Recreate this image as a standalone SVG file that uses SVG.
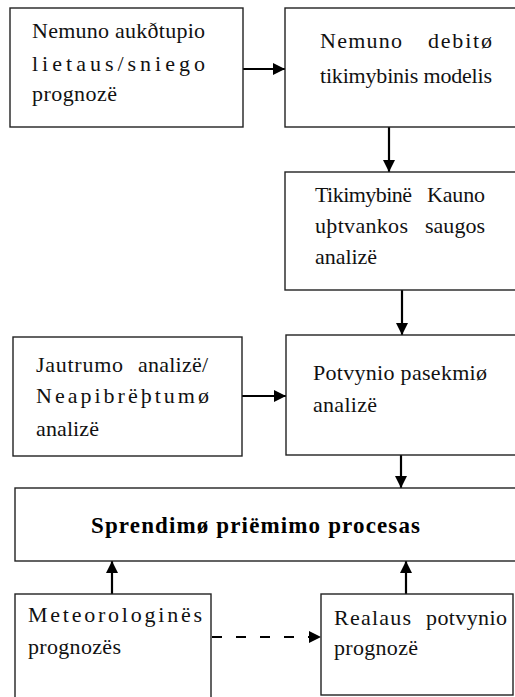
<svg xmlns="http://www.w3.org/2000/svg" width="515" height="697" viewBox="0 0 515 697">
<style>
.box{fill:#fff;stroke:#222;stroke-width:1.4}
.t{font-family:"Liberation Serif","Times New Roman",serif;font-size:22px;fill:#111}
.b{font-family:"Liberation Serif","Times New Roman",serif;font-size:23px;font-weight:bold;fill:#000}
.c{stroke:#000;stroke-width:2.2;fill:none}
</style>
<defs>
<marker id="ah" markerUnits="userSpaceOnUse" markerWidth="12" markerHeight="12" refX="12" refY="6" orient="auto">
<path d="M0,0 L12,6 L0,12 z" fill="#000"/>
</marker>
</defs>
<rect width="515" height="697" fill="#fff"/>
<g id="connectors">
<line class="c" x1="243" y1="69" x2="285" y2="69" marker-end="url(#ah)"/>
<line class="c" x1="389" y1="127" x2="389" y2="172" marker-end="url(#ah)"/>
<line class="c" x1="402" y1="290" x2="402" y2="335" marker-end="url(#ah)"/>
<line class="c" x1="242" y1="396" x2="286" y2="396" marker-end="url(#ah)"/>
<line class="c" x1="401" y1="455" x2="401" y2="488" marker-end="url(#ah)"/>
<line class="c" x1="112" y1="594" x2="112" y2="561" marker-end="url(#ah)"/>
<line class="c" x1="406" y1="594" x2="406" y2="561" marker-end="url(#ah)"/>
<line class="c" x1="212" y1="637" x2="321" y2="637" stroke-dasharray="10 14" marker-end="url(#ah)"/>
</g>
<g id="n1">
<rect class="box" x="10" y="8" width="233" height="119"/>
<text class="t" x="32" y="38" textLength="173" lengthAdjust="spacing">Nemuno aukðtupio</text>
<text class="t" x="32" y="71" textLength="173" lengthAdjust="spacing">lietaus/sniego</text>
<text class="t" x="32" y="101" textLength="85" lengthAdjust="spacing">prognozë</text>
</g>
<g id="n2">
<rect class="box" x="285" y="8" width="240" height="119"/>
<text class="t" x="320" y="48" textLength="82" lengthAdjust="spacing">Nemuno</text>
<text class="t" x="428" y="48" textLength="64" lengthAdjust="spacing">debitø</text>
<text class="t" x="320" y="83" textLength="172" lengthAdjust="spacing">tikimybinis modelis</text>
</g>
<g id="n3">
<rect class="box" x="285" y="172" width="240" height="118"/>
<text class="t" x="315" y="202" textLength="97" lengthAdjust="spacing">Tikimybinë</text>
<text class="t" x="427" y="202" textLength="58" lengthAdjust="spacing">Kauno</text>
<text class="t" x="315" y="233" textLength="93" lengthAdjust="spacing">uþtvankos</text>
<text class="t" x="425" y="233" textLength="60" lengthAdjust="spacing">saugos</text>
<text class="t" x="315" y="264" textLength="62" lengthAdjust="spacing">analizë</text>
</g>
<g id="n4">
<rect class="box" x="13" y="337" width="229" height="119"/>
<text class="t" x="36" y="372" textLength="87" lengthAdjust="spacing">Jautrumo</text>
<text class="t" x="138" y="372" textLength="70" lengthAdjust="spacing">analizë/</text>
<text class="t" x="36" y="403" textLength="173" lengthAdjust="spacing">Neapibrëþtumø</text>
<text class="t" x="36" y="436" textLength="63" lengthAdjust="spacing">analizë</text>
</g>
<g id="n5">
<rect class="box" x="286" y="335" width="240" height="120"/>
<text class="t" x="313" y="380" textLength="174" lengthAdjust="spacing">Potvynio pasekmiø</text>
<text class="t" x="313" y="412" textLength="64" lengthAdjust="spacing">analizë</text>
</g>
<g id="n6">
<rect class="box" x="15" y="488" width="510" height="73"/>
<text class="b" x="91" y="533" textLength="329" lengthAdjust="spacing">Sprendimø  priëmimo  procesas</text>
</g>
<g id="n7">
<rect class="box" x="15" y="594" width="196" height="110"/>
<text class="t" x="28" y="622" textLength="174" lengthAdjust="spacing">Meteorologinës</text>
<text class="t" x="28" y="654" textLength="93" lengthAdjust="spacing">prognozës</text>
</g>
<g id="n8">
<rect class="box" x="321" y="594" width="192" height="101"/>
<text class="t" x="334" y="625" textLength="77" lengthAdjust="spacing">Realaus</text>
<text class="t" x="426" y="625" textLength="81" lengthAdjust="spacing">potvynio</text>
<text class="t" x="334" y="655" textLength="84" lengthAdjust="spacing">prognozë</text>
</g>
</svg>
